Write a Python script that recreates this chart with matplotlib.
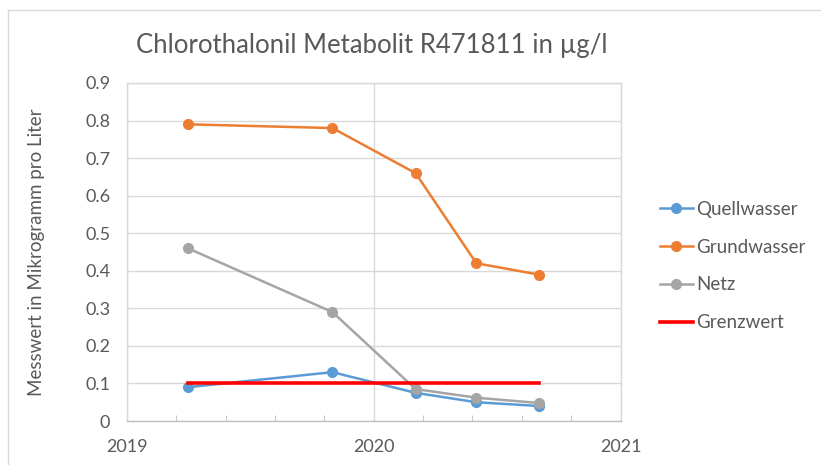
import datetime as dt
import matplotlib
matplotlib.use("Agg")
import matplotlib.pyplot as plt
import matplotlib.dates as mdates
from matplotlib.lines import Line2D

plt.rcParams['font.family'] = ['Lato', 'DejaVu Sans']

# --- DATA ---
dates = [dt.date(2019, 4, 1), dt.date(2019, 11, 1), dt.date(2020, 3, 3),
         dt.date(2020, 6, 1), dt.date(2020, 9, 1)]
quellwasser = [0.09, 0.13, 0.075, 0.05, 0.04]
grundwasser = [0.79, 0.78, 0.66, 0.42, 0.39]
netz = [0.46, 0.29, 0.085, 0.062, 0.048]
grenz_dates = [dates[0], dates[-1]]
grenzwert = [0.1, 0.1]

title = "Chlorothalonil Metabolit R471811 in µg/l"
ylabel = "Messwert in Mikrogramm pro Liter"

text_col = "#595959"
grid_col = "#d9d9d9"

fig = plt.figure(figsize=(8.21, 4.65), dpi=100)
ax = fig.add_axes([127 / 821, 1 - 421 / 465, 494 / 821, 338 / 465])

ax.plot(dates, quellwasser, color="#5B9BD5", lw=1.8, marker="o", ms=7, label="Quellwasser")
ax.plot(dates, grundwasser, color="#ED7D31", lw=1.8, marker="o", ms=7, label="Grundwasser")
ax.plot(dates, netz, color="#A5A5A5", lw=1.8, marker="o", ms=7, label="Netz")
ax.plot(grenz_dates, grenzwert, color="#FF0000", lw=2.6, label="Grenzwert")

ax.set_xlim(mdates.date2num(dt.date(2019, 1, 1)), mdates.date2num(dt.date(2021, 1, 1)))
ax.set_ylim(0, 0.9)
ax.set_yticks([i / 10 for i in range(10)])
ax.set_yticklabels(["0"] + [f"{i / 10:.1f}" for i in range(1, 10)])

ax.xaxis.set_major_locator(mdates.YearLocator())
ax.xaxis.set_major_formatter(mdates.DateFormatter("%Y"))
start = mdates.date2num(dt.date(2019, 1, 1))
ax.xaxis.set_minor_locator(matplotlib.ticker.FixedLocator(
    [start + k * 73 for k in range(1, 10) if k != 5]))

ax.grid(True, which="major", color=grid_col, lw=1.0)
ax.set_axisbelow(True)
for s in ax.spines.values():
    s.set_color(grid_col)
    s.set_linewidth(1.0)
ax.spines["bottom"].set_color("#bfbfbf")

ax.tick_params(axis="y", length=0, pad=12, labelsize=13, labelcolor=text_col)
ax.tick_params(axis="x", which="major", length=0, pad=13, labelsize=13, labelcolor=text_col)
ax.tick_params(axis="x", which="minor", direction="in", length=4, color="#bfbfbf")

ax.set_ylabel(ylabel, fontsize=13.5, color=text_col)
ax.yaxis.set_label_coords(-82 / 494, 0.5)
fig.text(372 / 821, 1 - 46 / 465, title, ha="center", va="center", fontsize=18.5, color=text_col)

leg = ax.legend(loc="center left", bbox_to_anchor=(1 + 39 / 494, 0.5 - 14 / 338), frameon=False,
                fontsize=13.5, labelcolor=text_col, handlelength=1.75,
                labelspacing=1.12, handletextpad=0.2, borderpad=0, borderaxespad=0)

# outer chart border
fig.add_artist(Line2D([7.5 / 821, 7.5 / 821], [0, 1 - 10 / 465], transform=fig.transFigure,
                      color=grid_col, lw=1.0))
fig.add_artist(Line2D([7.5 / 821, 1], [1 - 10 / 465, 1 - 10 / 465], transform=fig.transFigure,
                      color=grid_col, lw=1.0))

fig.savefig("out.png", dpi=100)
